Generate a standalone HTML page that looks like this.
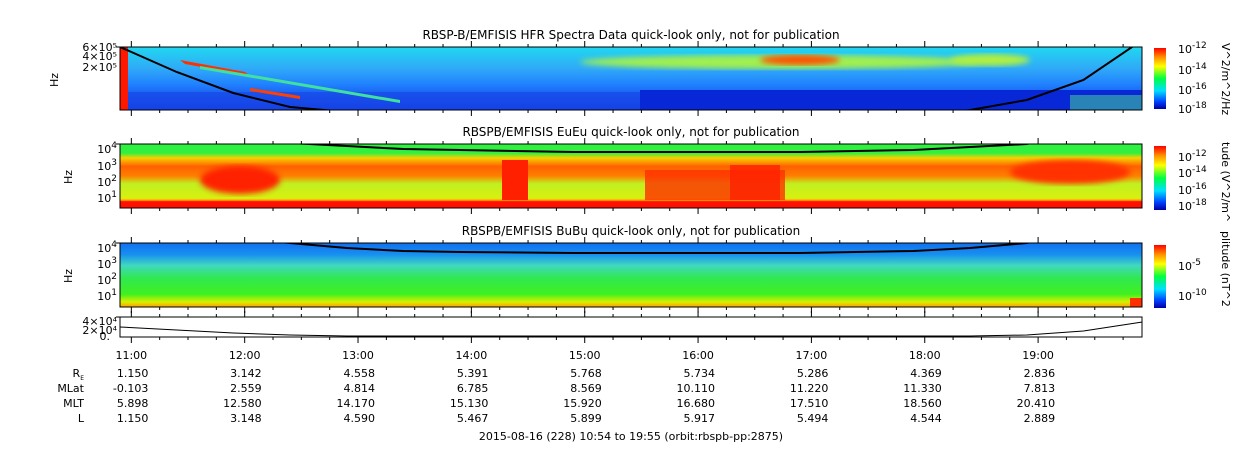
<!DOCTYPE html>
<html><head><meta charset="utf-8"><style>
html,body{margin:0;padding:0;background:#fff;}
svg{display:block;font-family:"DejaVu Sans","Liberation Sans",sans-serif;}
</style></head><body>
<svg id="chart" width="1250" height="449" viewBox="0 0 1250 449" xmlns="http://www.w3.org/2000/svg">
<defs>
<linearGradient id="cb" x1="0" y1="1" x2="0" y2="0">
<stop offset="0" stop-color="#0000a0"/><stop offset="0.12" stop-color="#0040ff"/><stop offset="0.3" stop-color="#00e0ff"/><stop offset="0.5" stop-color="#00ff40"/><stop offset="0.7" stop-color="#ffff00"/><stop offset="0.85" stop-color="#ff9000"/><stop offset="1" stop-color="#ff0000"/>
</linearGradient>
<linearGradient id="p1" x1="0" y1="0" x2="0" y2="1">
<stop offset="0" stop-color="#20d8f0"/><stop offset="0.35" stop-color="#30a8f8"/><stop offset="0.6" stop-color="#2080ff"/><stop offset="0.75" stop-color="#1a60f0"/><stop offset="1" stop-color="#1030e0"/>
</linearGradient>
<linearGradient id="p2" x1="0" y1="0" x2="0" y2="1">
<stop offset="0" stop-color="#30f040"/><stop offset="0.14" stop-color="#30f040"/><stop offset="0.22" stop-color="#f8d000"/><stop offset="0.35" stop-color="#ff6000"/><stop offset="0.5" stop-color="#ff8000"/><stop offset="0.62" stop-color="#c0f020"/><stop offset="0.85" stop-color="#d8f010"/><stop offset="0.88" stop-color="#ffa000"/><stop offset="0.9" stop-color="#ff1000"/><stop offset="1" stop-color="#ff1000"/>
</linearGradient>
<linearGradient id="p3" x1="0" y1="0" x2="0" y2="1">
<stop offset="0" stop-color="#1070f0"/><stop offset="0.18" stop-color="#1890f0"/><stop offset="0.35" stop-color="#40d8c0"/><stop offset="0.55" stop-color="#30e850"/><stop offset="0.8" stop-color="#40f020"/><stop offset="0.92" stop-color="#d8f000"/><stop offset="1" stop-color="#ffa000"/>
</linearGradient>
<filter id="bl"><feGaussianBlur stdDeviation="3"/></filter>
<clipPath id="c1"><rect x="120" y="47" width="1022" height="63"/></clipPath>
<clipPath id="c2"><rect x="120" y="144" width="1022" height="64"/></clipPath>
<clipPath id="c3"><rect x="120" y="243" width="1022" height="64"/></clipPath>
</defs>

<text x="631" y="39" font-size="12" text-anchor="middle">RBSP-B/EMFISIS  HFR Spectra Data quick-look only, not for publication</text>
<text x="631" y="136" font-size="12" text-anchor="middle">RBSPB/EMFISIS  EuEu quick-look only, not for publication</text>
<text x="631" y="235" font-size="12" text-anchor="middle">RBSPB/EMFISIS  BuBu quick-look only, not for publication</text>

<g clip-path="url(#c1)">
<rect x="120" y="47" width="1022" height="63" fill="url(#p1)"/>
<rect x="640" y="90" width="502" height="20" fill="#0828d8"/>
<rect x="120" y="92" width="520" height="18" fill="#1848e8" opacity="0.7"/>
<ellipse cx="780" cy="62" rx="200" ry="7" fill="#a0f050" filter="url(#bl)"/>
<ellipse cx="800" cy="60" rx="40" ry="5" fill="#ff5000" filter="url(#bl)"/>
<ellipse cx="990" cy="60" rx="40" ry="6" fill="#b0f040" filter="url(#bl)"/>
<rect x="120" y="47" width="8" height="63" fill="#ff1800"/>
<rect x="1070" y="95" width="72" height="15" fill="#40c0a0" opacity="0.6"/>
<polygon points="180,60 245,72 250,76 185,64" fill="#ff3000"/>
<polygon points="200,66 400,100 400,103 200,69" fill="#40e0a0"/>
<polygon points="250,88 300,96 300,99 250,91" fill="#ff4000"/>
</g>
<g clip-path="url(#c2)">
<rect x="120" y="144" width="1022" height="64" fill="url(#p2)"/>
<ellipse cx="240" cy="180" rx="40" ry="14" fill="#ff2000" filter="url(#bl)"/>
<rect x="502" y="160" width="26" height="40" fill="#ff2000"/>
<rect x="645" y="170" width="140" height="30" fill="#ff3000" opacity="0.8"/>
<rect x="730" y="165" width="50" height="35" fill="#ff2000" opacity="0.8"/>
<ellipse cx="1070" cy="172" rx="60" ry="12" fill="#ff3000" filter="url(#bl)"/>
</g>
<g clip-path="url(#c3)">
<rect x="120" y="243" width="1022" height="64" fill="url(#p3)"/>
<rect x="1130" y="298" width="12" height="9" fill="#ff3000"/>
</g>
<rect x="120" y="317" width="1022" height="20" fill="#fff"/>

<g id="lines"></g>
<g id="axes"></g>

<g font-size="11">
<text x="117" y="51" text-anchor="end">6×10⁵</text>
<text x="117" y="60" text-anchor="end">4×10⁵</text>
<text x="117" y="71" text-anchor="end">2×10⁵</text>
<text x="58" y="80" transform="rotate(-90 58 80)" text-anchor="middle">Hz</text>
</g>
<g font-size="11">
<text x="117" y="153" text-anchor="end">10<tspan dy="-5" font-size="9">4</tspan></text>
<text x="117" y="170" text-anchor="end">10<tspan dy="-5" font-size="9">3</tspan></text>
<text x="117" y="186" text-anchor="end">10<tspan dy="-5" font-size="9">2</tspan></text>
<text x="117" y="202" text-anchor="end">10<tspan dy="-5" font-size="9">1</tspan></text>
<text x="72" y="177" transform="rotate(-90 72 177)" text-anchor="middle">Hz</text>
</g>
<g font-size="11">
<text x="117" y="252" text-anchor="end">10<tspan dy="-5" font-size="9">4</tspan></text>
<text x="117" y="268" text-anchor="end">10<tspan dy="-5" font-size="9">3</tspan></text>
<text x="117" y="284" text-anchor="end">10<tspan dy="-5" font-size="9">2</tspan></text>
<text x="117" y="300" text-anchor="end">10<tspan dy="-5" font-size="9">1</tspan></text>
<text x="72" y="276" transform="rotate(-90 72 276)" text-anchor="middle">Hz</text>
</g>
<g font-size="11">
<text x="117" y="325" text-anchor="end">4×10⁴</text>
<text x="117" y="334" text-anchor="end">2×10⁴</text>
<text x="110" y="340" text-anchor="end">0.</text>
</g>

<g font-size="11">
<rect x="1154" y="48" width="12" height="61" fill="url(#cb)"/>
<text x="1178" y="53">10<tspan dy="-5" font-size="9">-12</tspan></text>
<text x="1178" y="74"><tspan>10</tspan><tspan dy="-5" font-size="9">-14</tspan></text>
<text x="1178" y="94">10<tspan dy="-5" font-size="9">-16</tspan></text>
<text x="1178" y="113">10<tspan dy="-5" font-size="9">-18</tspan></text>
<text transform="translate(1222 43) rotate(90)">V^2/m^2/Hz</text>
<rect x="1154" y="146" width="12" height="64" fill="url(#cb)"/>
<text x="1178" y="161">10<tspan dy="-5" font-size="9">-12</tspan></text>
<text x="1178" y="177">10<tspan dy="-5" font-size="9">-14</tspan></text>
<text x="1178" y="194">10<tspan dy="-5" font-size="9">-16</tspan></text>
<text x="1178" y="210">10<tspan dy="-5" font-size="9">-18</tspan></text>
<text transform="translate(1222 142) rotate(90)">tude (V^2/m^</text>
<rect x="1154" y="245" width="12" height="63" fill="url(#cb)"/>
<text x="1178" y="270">10<tspan dy="-5" font-size="9">-5</tspan></text>
<text x="1178" y="300">10<tspan dy="-5" font-size="9">-10</tspan></text>
<text transform="translate(1222 231) rotate(90)">plitude (nT^2</text>
</g>

<g id="ephem" font-size="11"></g>
<text x="631" y="440" font-size="11" text-anchor="middle">2015-08-16 (228) 10:54 to 19:55 (orbit:rbspb-pp:2875)</text>
</svg>
<script>
// hours since 10:54
const lineTimes = [0, 0.5, 1, 1.5, 2, 2.5, 3, 4, 5, 6, 7, 7.5, 8, 8.5, 9.02];
const hfrLine  = [47, 72, 93, 107, 112, 118, 120, 122, 122, 122, 118, 110, 100, 80, 40];
const eLine    = [120, 120, 130, 143, 146, 149, 150, 152, 152, 152, 150, 147, 144, 130, 120];
const bLine    = [225, 228, 238, 243, 248, 251, 252, 253, 253, 253, 251, 248, 243, 230, 225];
const densLine = [327, 330, 333, 335, 336, 336, 336, 336, 336, 336, 336, 336, 335, 331, 322];
const hourLabels = ["11:00","12:00","13:00","14:00","15:00","16:00","17:00","18:00","19:00"];
const rowNames = ["R_E","MLat","MLT","L"];
const reVals   = ["1.150","3.142","4.558","5.391","5.768","5.734","5.286","4.369","2.836"];
const mlatVals = ["-0.103","2.559","4.814","6.785","8.569","10.110","11.220","11.330","7.813"];
const mltVals  = ["5.898","12.580","14.170","15.130","15.920","16.680","17.510","18.560","20.410"];
const lVals    = ["1.150","3.148","4.590","5.467","5.899","5.917","5.494","4.544","2.889"];

const NS="http://www.w3.org/2000/svg";
const x0=120, x1=1142, span=9.0167;
const xs = h => x0 + h/span*(x1-x0);
function mk(t,a,p){const e=document.createElementNS(NS,t);for(const k in a)e.setAttribute(k,a[k]);p.appendChild(e);return e;}
const lines=document.getElementById('lines');
function drawLine(vals,name,clip,w){
  const g=mk('g',{'clip-path':clip},lines);
  const p=mk('polyline',{points:lineTimes.map((t,i)=>xs(t)+','+vals[i]).join(' '),fill:'none',stroke:'#000','stroke-width':w},g);
  
  
}
drawLine(hfrLine,'hfr-cutoff-line','url(#c1)',2);
drawLine(eLine,'eueu-cyclotron-line','url(#c2)',2);
drawLine(bLine,'bubu-cyclotron-line','url(#c3)',2);
drawLine(densLine,'density-line','',1);

const axes=document.getElementById('axes');
const panels=[[47,110],[144,208],[243,307],[317,337]];
panels.forEach((p,i)=>{
  const r=mk('rect',{x:x0,y:p[0],width:x1-x0,height:p[1]-p[0],fill:'none',stroke:'#000','stroke-width':1},axes);
  
  
  for(let k=0;k<=36;k++){
    const h=(6+k*15)/60; if(h>span) break;
    const X=xs(h), len=(k%4===0)?6:3;
    mk('line',{x1:X,x2:X,y1:p[1],y2:p[1]+len,stroke:'#000'},axes);
    mk('line',{x1:X,x2:X,y1:p[0],y2:p[0]-len,stroke:'#000'},axes);
  }
  mk('line',{x1:x0,x2:x0-4,y1:p[0],y2:p[0],stroke:'#000'},axes);
});
const eg=document.getElementById('ephem');
hourLabels.forEach((s,i)=>{
  const t=mk('text',{x:xs(0.1+i),y:359,'text-anchor':'middle'},eg); t.textContent=s;
  
  
});
const rows=[reVals,mlatVals,mltVals,lVals];
rows.forEach((vals,r)=>{
  const y=377+r*15;
  const lab=mk('text',{x:84,y:y,'text-anchor':'end'},eg);
  if(r===0){lab.textContent='R';const ts=mk('tspan',{'font-size':'6',dy:'3'},lab);ts.textContent='E';}
  else lab.textContent=rowNames[r];
  
  
  vals.forEach((v,i)=>{
    const t=mk('text',{x:xs(0.1+i)+17,y:y,'text-anchor':'end'},eg); t.textContent=v;
    
    
  });
});
</script>
</body></html>
